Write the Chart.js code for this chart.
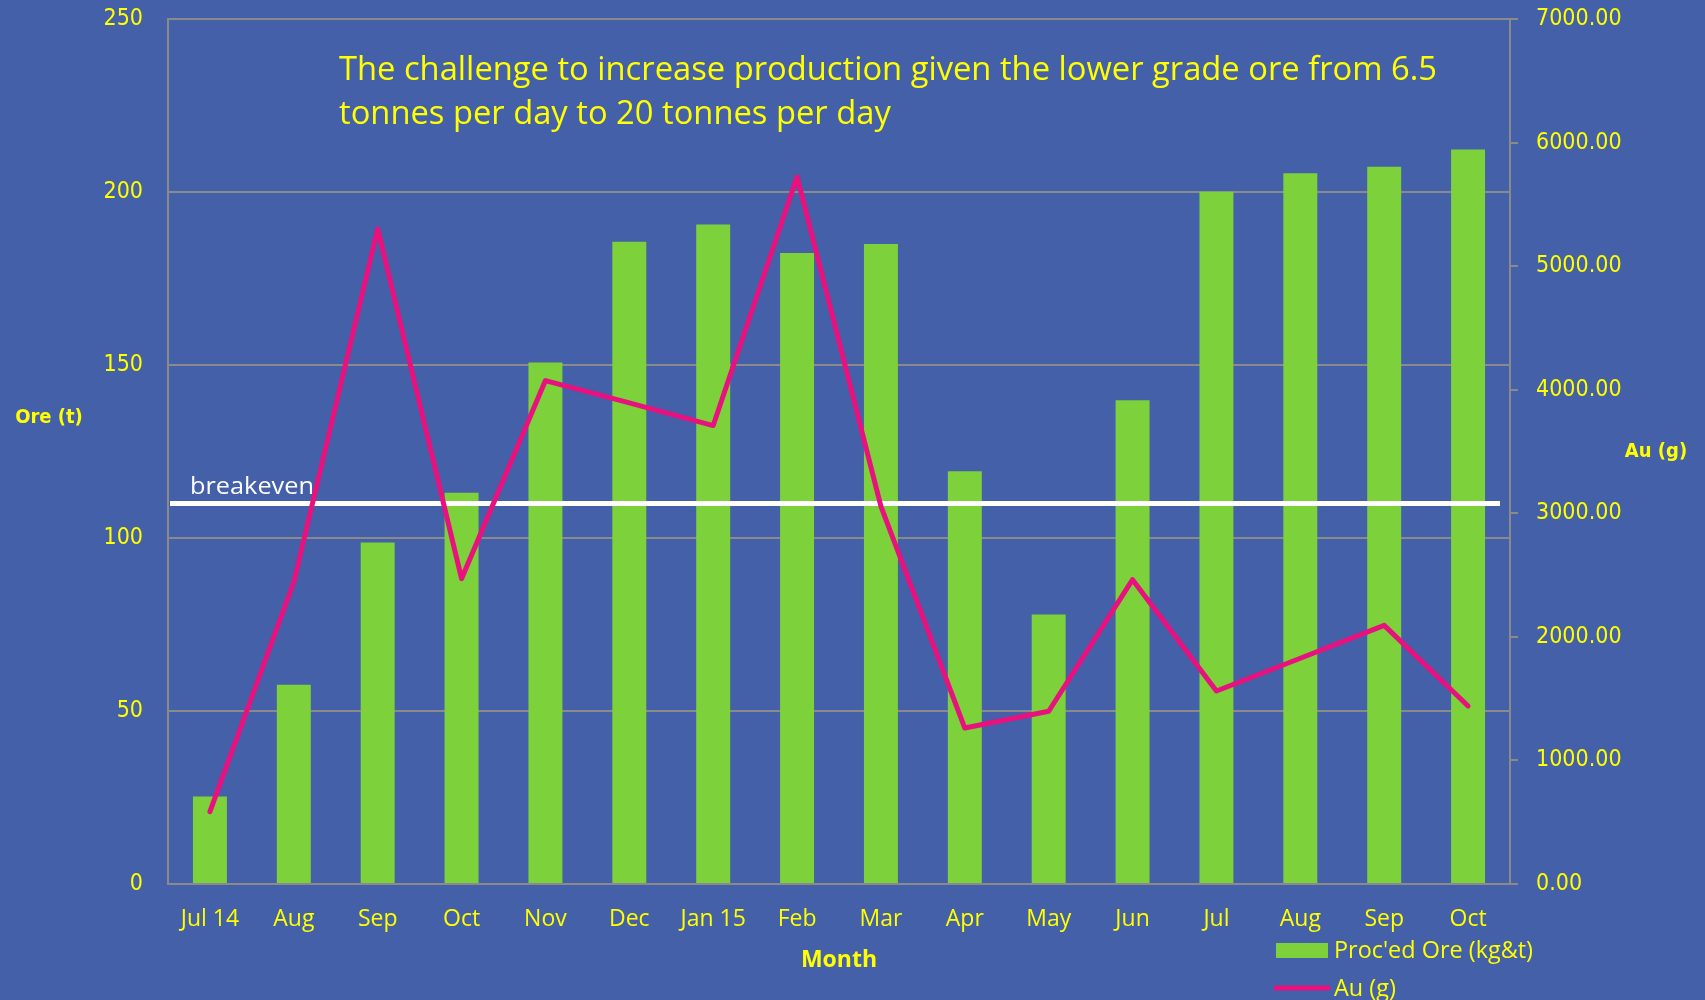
<!DOCTYPE html>
<html lang="en">
<head>
    <meta charset="UTF-8">
    <title>Ore and Au production</title>
    <script src="https://cdn.jsdelivr.net/npm/chart.js"></script>
    <style>
        body { margin: 0; background: #4460a8; }
        canvas { display: block; }
    </style>
</head>
<body>
    <canvas id="myChart" width="1705" height="1000"></canvas>

    <script>
        const months = ['Jul 14', 'Aug', 'Sep', 'Oct', 'Nov', 'Dec', 'Jan 15', 'Feb', 'Mar', 'Apr', 'May', 'Jun', 'Jul', 'Aug', 'Sep', 'Oct'];
        const oreTonnes = [25.3, 57.6, 98.7, 113.1, 150.7, 185.6, 190.6, 182.4, 185.0, 119.3, 77.9, 139.8, 200.1, 205.4, 207.3, 212.3];
        const auGrams = [586, 2444, 5301, 2471, 4074, 3893, 3710, 5723, 3055, 1262, 1398, 2463, 1562, 1827, 2093, 1441];
        const breakeven = 110;
        const titleLines = ['The challenge to increase production given the lower grade ore from 6.5', 'tonnes per day to 20 tonnes per day'];

        const yellow = '#ffff00';
        const green = '#7dd13a';
        const pink = '#e8117d';
        const gray = '#8a8a8a';
        const tickFont = "'DejaVu Sans Condensed', 'DejaVu Sans', sans-serif";

        // draw text squeezed/stretched horizontally so the first string fills `width`
        function fitScale(ctx, text, width) {
            return width / ctx.measureText(text).width;
        }
        function scaledText(ctx, text, x, y, sx) {
            ctx.save();
            ctx.translate(x, y);
            ctx.scale(sx, 1);
            ctx.fillText(text, 0, 0);
            ctx.restore();
        }

        // breakeven line goes over the bars but under the Au line
        const breakevenPlugin = {
            id: 'breakeven',
            afterDatasetDraw(chart, args) {
                if (args.index !== 0) return;
                const ctx = chart.ctx;
                const y = chart.scales.y.getPixelForValue(breakeven);
                ctx.save();
                ctx.strokeStyle = '#ffffff';
                ctx.lineWidth = 5;
                ctx.beginPath();
                ctx.moveTo(chart.chartArea.left + 2, y);
                ctx.lineTo(chart.chartArea.right - 10, y);
                ctx.stroke();
                ctx.fillStyle = '#ffffff';
                ctx.font = "24px 'Open Sans'";
                ctx.textBaseline = 'alphabetic';
                scaledText(ctx, 'breakeven', chart.chartArea.left + 22, y - 9, fitScale(ctx, 'breakeven', 124));
                ctx.restore();
            }
        };

        const textPlugin = {
            id: 'texts',
            afterDraw(chart) {
                const ctx = chart.ctx;
                ctx.save();
                ctx.fillStyle = yellow;
                ctx.textBaseline = 'alphabetic';

                // heading inside the plot
                ctx.font = "33px 'Open Sans'";
                const sx = fitScale(ctx, titleLines[0], 1098);
                titleLines.forEach((line, i) => scaledText(ctx, line, 339, 80 + i * 44, sx));

                // axis titles
                ctx.textAlign = 'center';
                ctx.textBaseline = 'middle';
                ctx.font = "bold 20px " + tickFont;
                ctx.fillText('Ore (t)', 49, 418);
                ctx.fillText('Au (g)', 1656, 452);
                ctx.font = "bold 23px 'Open Sans'";
                ctx.fillText('Month', 839, 960);

                // legend
                ctx.textAlign = 'left';
                ctx.textBaseline = 'alphabetic';
                ctx.fillStyle = green;
                ctx.fillRect(1276, 943, 52, 15);
                ctx.strokeStyle = pink;
                ctx.lineWidth = 5;
                ctx.lineCap = 'round';
                ctx.beginPath();
                ctx.moveTo(1276, 988);
                ctx.lineTo(1328, 988);
                ctx.stroke();
                ctx.fillStyle = yellow;
                ctx.font = "23px 'Open Sans'";
                const lsx = fitScale(ctx, chart.data.datasets[0].label, 199);
                scaledText(ctx, chart.data.datasets[0].label, 1334, 958, lsx);
                scaledText(ctx, chart.data.datasets[1].label, 1334, 996, lsx);
                ctx.restore();
            }
        };

        // fixed axis sizes so the plot area sits where it does in the original
        function fitY(width) {
            return s => {
                s.width = width;
                s.paddingTop = 0;
                s.paddingBottom = 0;
            };
        }

        const ctx = document.getElementById('myChart').getContext('2d');
        const chart = new Chart(ctx, {
            data: {
                labels: months,
                datasets: [{
                    type: 'bar',
                    label: "Proc'ed Ore (kg&t)",
                    data: oreTonnes,
                    backgroundColor: green,
                    yAxisID: 'y',
                    barPercentage: 0.405,
                    categoryPercentage: 1,
                    order: 1
                }, {
                    type: 'line',
                    label: 'Au (g)',
                    data: auGrams,
                    borderColor: pink,
                    borderWidth: 5,
                    pointRadius: 0,
                    tension: 0,
                    borderCapStyle: 'round',
                    borderJoinStyle: 'round',
                    yAxisID: 'y1',
                    order: 0
                }]
            },
            options: {
                responsive: false,
                animation: false,
                layout: { padding: { top: 19, left: 0, right: 0, bottom: 0 } },
                plugins: {
                    legend: { display: false },
                    tooltip: { enabled: false }
                },
                scales: {
                    x: {
                        grid: { display: false, drawTicks: false },
                        border: { color: gray, width: 2 },
                        ticks: {
                            color: yellow,
                            font: { family: "'Open Sans'", size: 23 },
                            padding: 22,
                            maxRotation: 0,
                            autoSkip: false
                        },
                        afterFit: s => { s.height = 116; }
                    },
                    y: {
                        position: 'left',
                        min: 0,
                        max: 250,
                        ticks: {
                            stepSize: 50,
                            color: yellow,
                            font: { family: tickFont, size: 23 },
                            padding: 25
                        },
                        grid: { color: gray, lineWidth: 2, drawTicks: false },
                        border: { color: gray, width: 2 },
                        afterFit: fitY(168)
                    },
                    y1: {
                        position: 'right',
                        min: 0,
                        max: 7000,
                        ticks: {
                            stepSize: 1000,
                            color: yellow,
                            font: { family: tickFont, size: 23 },
                            padding: 18,
                            callback: v => v.toFixed(2)
                        },
                        grid: { drawOnChartArea: false, color: gray, lineWidth: 2, tickLength: 8 },
                        border: { color: gray, width: 2 },
                        afterFit: fitY(195)
                    }
                }
            },
            plugins: [breakevenPlugin, textPlugin]
        });
    </script>
</body>
</html>
